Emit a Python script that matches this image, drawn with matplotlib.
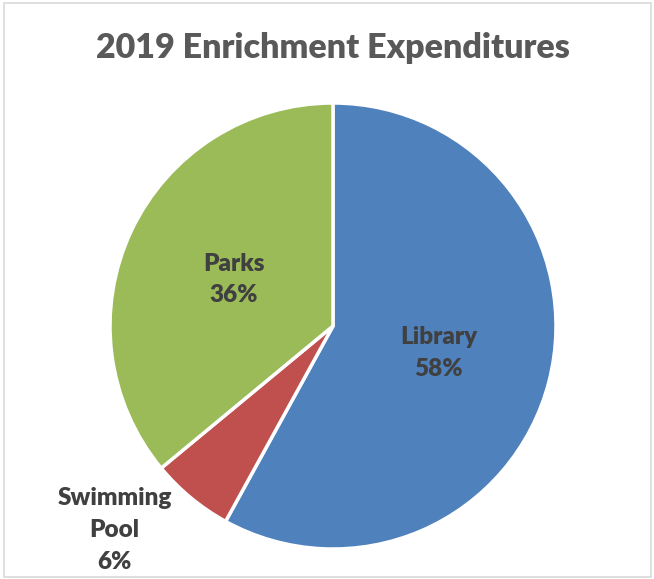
import numpy as np
import matplotlib.pyplot as plt
from matplotlib.patches import Rectangle

categories = ['Library', 'Swimming\nPool', 'Parks']
shares = [58, 6, 36]
colors = ['#4F81BD', '#C0504D', '#9BBB59']

W, H = 654, 579
fig = plt.figure(figsize=(W / 100, H / 100), dpi=100)

# chart frame
fig.patches.append(Rectangle((4 / W, 2 / H), 647 / W, 574 / H, transform=fig.transFigure,
                             fill=False, edgecolor='#D9D9D9', linewidth=1.2))

cx, cy, r = 333, 326, 223
ax = fig.add_axes([(cx - r) / W, (H - cy - r) / H, 2 * r / W, 2 * r / H])
wedges, _ = ax.pie(shares, colors=colors, startangle=90, counterclock=False,
                   wedgeprops=dict(edgecolor='white', linewidth=2.5))
ax.set_xlim(-1, 1)
ax.set_ylim(-1, 1)
ax.set_aspect('equal')

# label placement: inside for big slices, outside for the small one
dists = [0.49, 1.34, 0.49]
for w, name, s, d in zip(wedges, categories, shares, dists):
    ang = np.deg2rad((w.theta1 + w.theta2) / 2)
    if s < 10:
        ang = np.deg2rad(-137)
    ax.text(d * np.cos(ang), d * np.sin(ang), f'{name}\n{s}%', ha='center', va='center',
            fontsize=17.5, fontweight='heavy', color='#404040', family='Lato',
            linespacing=1.55, clip_on=False)

fig.text(cx / W, 1 - 48 / H, '2019 Enrichment Expenditures', ha='center', va='center',
         fontsize=24.5, fontweight='heavy', color='#595959', family='Lato')

fig.savefig('out.png', dpi=100)
